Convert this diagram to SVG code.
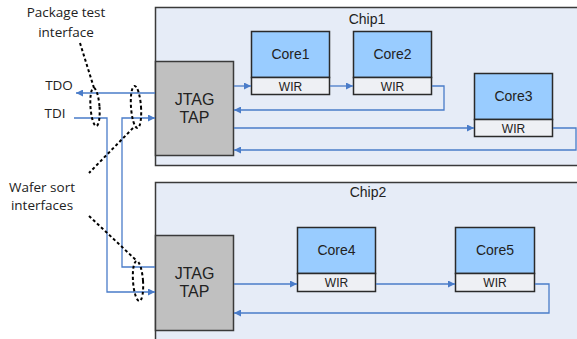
<svg xmlns="http://www.w3.org/2000/svg" width="577" height="339" viewBox="0 0 577 339">
<defs>
<marker id="ah" viewBox="0 0 10 10" refX="10" refY="5" markerWidth="9" markerHeight="7" markerUnits="userSpaceOnUse" orient="auto">
<path d="M0,0 L10,5 L0,10 z" fill="#4a7cc9"/>
</marker>
<style>
.chip{fill:#e6ecf7;stroke:#3a3a3a;stroke-width:1.5}
.jtag{fill:#c0c0c0;stroke:#3a3a3a;stroke-width:1.5}
.core{fill:#99ccff;stroke:#2a2a2a;stroke-width:1.5}
.wir{fill:#eef0f4;stroke:#2a2a2a;stroke-width:1.5}
.w{fill:none;stroke:#4a7cc9;stroke-width:1.3}
.arr{marker-end:url(#ah)}
.dash{fill:none;stroke:#000;stroke-width:2;stroke-dasharray:3,2.5}
text{font-family:"Liberation Sans",Arial,sans-serif;fill:#222}
.lbl{font-family:"Open Sans","Liberation Sans",sans-serif;font-size:13.5px;fill:#222}
.t{font-size:14px;text-anchor:middle}
.j{font-size:16px;text-anchor:middle}
.s{font-size:12px;text-anchor:middle}
</style>
</defs>
<g id="chip1">
<rect class="chip" x="155.5" y="7.5" width="430" height="158"/>
<text class="t" x="367" y="24">Chip1</text>
</g>
<g id="chip2">
<rect class="chip" x="155.5" y="182.5" width="430" height="170"/>
<text class="t" x="368" y="197">Chip2</text>
</g>
<g id="jtag1">
<rect class="jtag" x="155.5" y="61.5" width="78" height="94"/>
<text class="j" x="194.5" y="105">JTAG</text>
<text class="j" x="194.5" y="123">TAP</text>
</g>
<g id="jtag2">
<rect class="jtag" x="155.5" y="235.5" width="78" height="95"/>
<text class="j" x="194.5" y="279">JTAG</text>
<text class="j" x="194.5" y="297">TAP</text>
</g>
<g id="core1">
<rect class="core" x="251.5" y="31.5" width="78" height="46"/>
<rect class="wir" x="251.5" y="77.5" width="78" height="17"/>
<text class="t" x="290.5" y="59">Core1</text>
<text class="s" x="290.5" y="90.5">WIR</text>
</g>
<g id="core2">
<rect class="core" x="353.5" y="31.5" width="78" height="46"/>
<rect class="wir" x="353.5" y="77.5" width="78" height="17"/>
<text class="t" x="392.5" y="59">Core2</text>
<text class="s" x="392.5" y="90.5">WIR</text>
</g>
<g id="core3">
<rect class="core" x="474.5" y="73.5" width="78" height="46"/>
<rect class="wir" x="474.5" y="119.5" width="78" height="17"/>
<text class="t" x="513.5" y="101">Core3</text>
<text class="s" x="513.5" y="132.5">WIR</text>
</g>
<g id="core4">
<rect class="core" x="297.5" y="227.5" width="78" height="46"/>
<rect class="wir" x="297.5" y="273.5" width="78" height="18"/>
<text class="t" x="336.5" y="255">Core4</text>
<text class="s" x="336.5" y="287">WIR</text>
</g>
<g id="core5">
<rect class="core" x="455.5" y="227.5" width="79" height="46"/>
<rect class="wir" x="455.5" y="273.5" width="79" height="18"/>
<text class="t" x="495" y="255">Core5</text>
<text class="s" x="495" y="287">WIR</text>
</g>
<g id="connectors">
<path class="w arr" d="M155,93 H76"/>
<path class="w arr" d="M74,118 H107 V292 H155"/>
<path class="w arr" d="M155,267 H122 V118 H155"/>
<path class="w arr" d="M234,86 H251"/>
<path class="w arr" d="M330,86 H353"/>
<path class="w arr" d="M432,86 H444 V110 H234"/>
<path class="w arr" d="M234,128 H474"/>
<path class="w arr" d="M553,128 H576 V150 H234"/>
<path class="w arr" d="M234,284 H297"/>
<path class="w arr" d="M376,284 H455"/>
<path class="w arr" d="M535,284 H549 V313 H234"/>
</g>
<g id="annotations">
<ellipse class="dash" cx="95" cy="107" rx="4.5" ry="19" transform="rotate(-4 95 107)"/>
<ellipse class="dash" cx="136" cy="107" rx="5" ry="21" transform="rotate(-4 136 107)"/>
<ellipse class="dash" cx="138" cy="281" rx="5" ry="20" transform="rotate(-4 138 281)"/>
<path class="dash" d="M80,43 L94,88"/>
<path class="dash" d="M133,128 L89,173"/>
<path class="dash" d="M89,216 L137,261"/>
<text class="lbl" x="66" y="17" text-anchor="middle">Package test</text>
<text class="lbl" x="66" y="37" text-anchor="middle">interface</text>
<text class="lbl" x="59" y="90" text-anchor="middle">TDO</text>
<text class="lbl" x="55" y="118" text-anchor="middle">TDI</text>
<text class="lbl" x="42" y="192" text-anchor="middle">Wafer sort</text>
<text class="lbl" x="42" y="210" text-anchor="middle">interfaces</text>
</g>
</svg>
